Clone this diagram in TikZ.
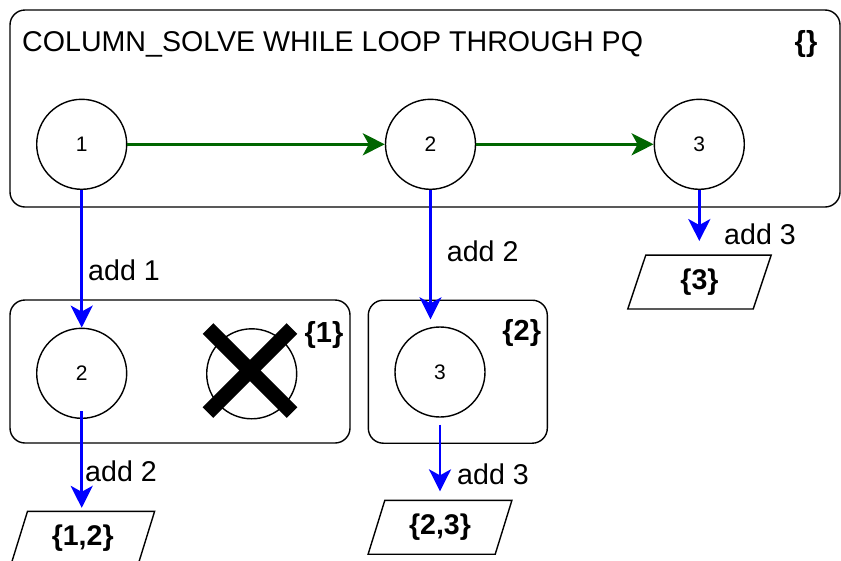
\documentclass[tikz,border=0pt]{standalone}
\usepackage{fontspec}
\setmainfont{Liberation Sans}
\usetikzlibrary{arrows.meta,calc}
\definecolor{arrgreen}{RGB}{0,102,0}
\definecolor{arrblue}{RGB}{0,0,255}
\begin{document}
\begin{tikzpicture}[x=1pt,y=-1pt,
  box/.style={draw, rounded corners=15pt, line width=1.4pt, inner sep=0pt},
  state/.style={circle, draw, line width=1.4pt, minimum size=90pt, inner sep=0pt, font=\fontsize{21}{25}\selectfont},
  lbl/.style={inner sep=0pt, anchor=west, font=\fontsize{28.6}{32}\selectfont},
  setlbl/.style={inner sep=0pt, font=\bfseries\fontsize{29}{33}\selectfont},
  para/.style={inner sep=0pt, minimum height=53.5pt, font=\bfseries\fontsize{28.5}{32}\selectfont},
  tipstyle/.style={-{Stealth[length=22pt,width=22pt,inset=6pt]}},
  garrow/.style={draw=arrgreen, line width=2.8pt, tipstyle},
  barrow/.style={draw=arrblue, line width=2.8pt, tipstyle},
  pline/.style={draw, line width=1.4pt, line join=miter}
]
\useasboundingbox (0,0) rectangle (841,560);

% containers
\node[box, minimum width=830pt, minimum height=197pt] (top) at (425,108.5) {};
\node[box, minimum width=340pt, minimum height=143pt] (boxA) at (180,371.5) {};
\node[box, minimum width=179pt, minimum height=143pt] (boxB) at (457.8,371.7) {};

% titles
\node[inner sep=0pt, anchor=base west, font=\fontsize{28.6}{32}\selectfont] (title) at (22,51.7) {COLUMN\_SOLVE WHILE LOOP THROUGH PQ};
\node[setlbl] (s0) at (806,44) {\{\}};
\node[setlbl] (s1) at (324,334.5) {\{1\}};
\node[setlbl] (s2) at (521.7,333) {\{2\}};

% states
\node[state] (c1) at (81.7,144.3) {1};
\node[state] (c2) at (430.5,144.3) {2};
\node[state] (c3) at (699.3,144.3) {3};
\node[state] (b1) at (81.7,373.3) {2};
\node[state] (bx) at (251.7,373.8) {};
\node[state] (b2) at (440,372) {3};

% cross
\draw[line width=15pt, line cap=butt] (208,328.5) -- (292,412.5);
\draw[line width=15pt, line cap=butt] (292,328.5) -- (208,412.5);

% result sets
\node[para, minimum width=125pt] (p3) at (699.5,282) {\{3\}};
\draw[pline] ([xshift=9pt]p3.north west) -- ([xshift=9pt]p3.north east) -- ([xshift=-9pt]p3.south east) -- ([xshift=-9pt]p3.south west) -- cycle;
\node[para, minimum width=126.7pt] (p12) at (82.7,538.3) {\{1,2\}};
\draw[pline] ([xshift=8.35pt]p12.north west) -- ([xshift=8.35pt]p12.north east) -- ([xshift=-8.35pt]p12.south east) -- ([xshift=-8.35pt]p12.south west) -- cycle;
\node[para, minimum width=126.7pt] (p23) at (440,527.3) {\{2,3\}};
\draw[pline] ([xshift=8.35pt]p23.north west) -- ([xshift=8.35pt]p23.north east) -- ([xshift=-8.35pt]p23.south east) -- ([xshift=-8.35pt]p23.south west) -- cycle;

% green connectors
\draw[garrow] (c1.east) -- (c2.west);
\draw[garrow] (c2.east) -- (c3.west);

% blue connectors
\draw[barrow] (c1.south) -- (b1.north);
\draw[barrow, shorten >=7pt] (c2.south) -- (c2.south |- b2.north);
\draw[barrow, shorten >=14pt] (c3.south) -- (c3.south |- p3.north);
\draw[barrow, shorten >=3.5pt] ([yshift=8pt]b1.south) -- (b1.south |- p12.north);
\draw[barrow, shorten >=9pt] ([yshift=-7pt]b2.south) -- (b2.south |- p23.north);

% edge labels
\node[lbl] (l1) at (88,270) {add 1};
\node[lbl] (l2) at (446.7,251.7) {add 2};
\node[lbl] (l3) at (724,234) {add 3};
\node[lbl] (l4) at (85,471) {add 2};
\node[lbl] (l5) at (457,474) {add 3};
\end{tikzpicture}
\end{document}
